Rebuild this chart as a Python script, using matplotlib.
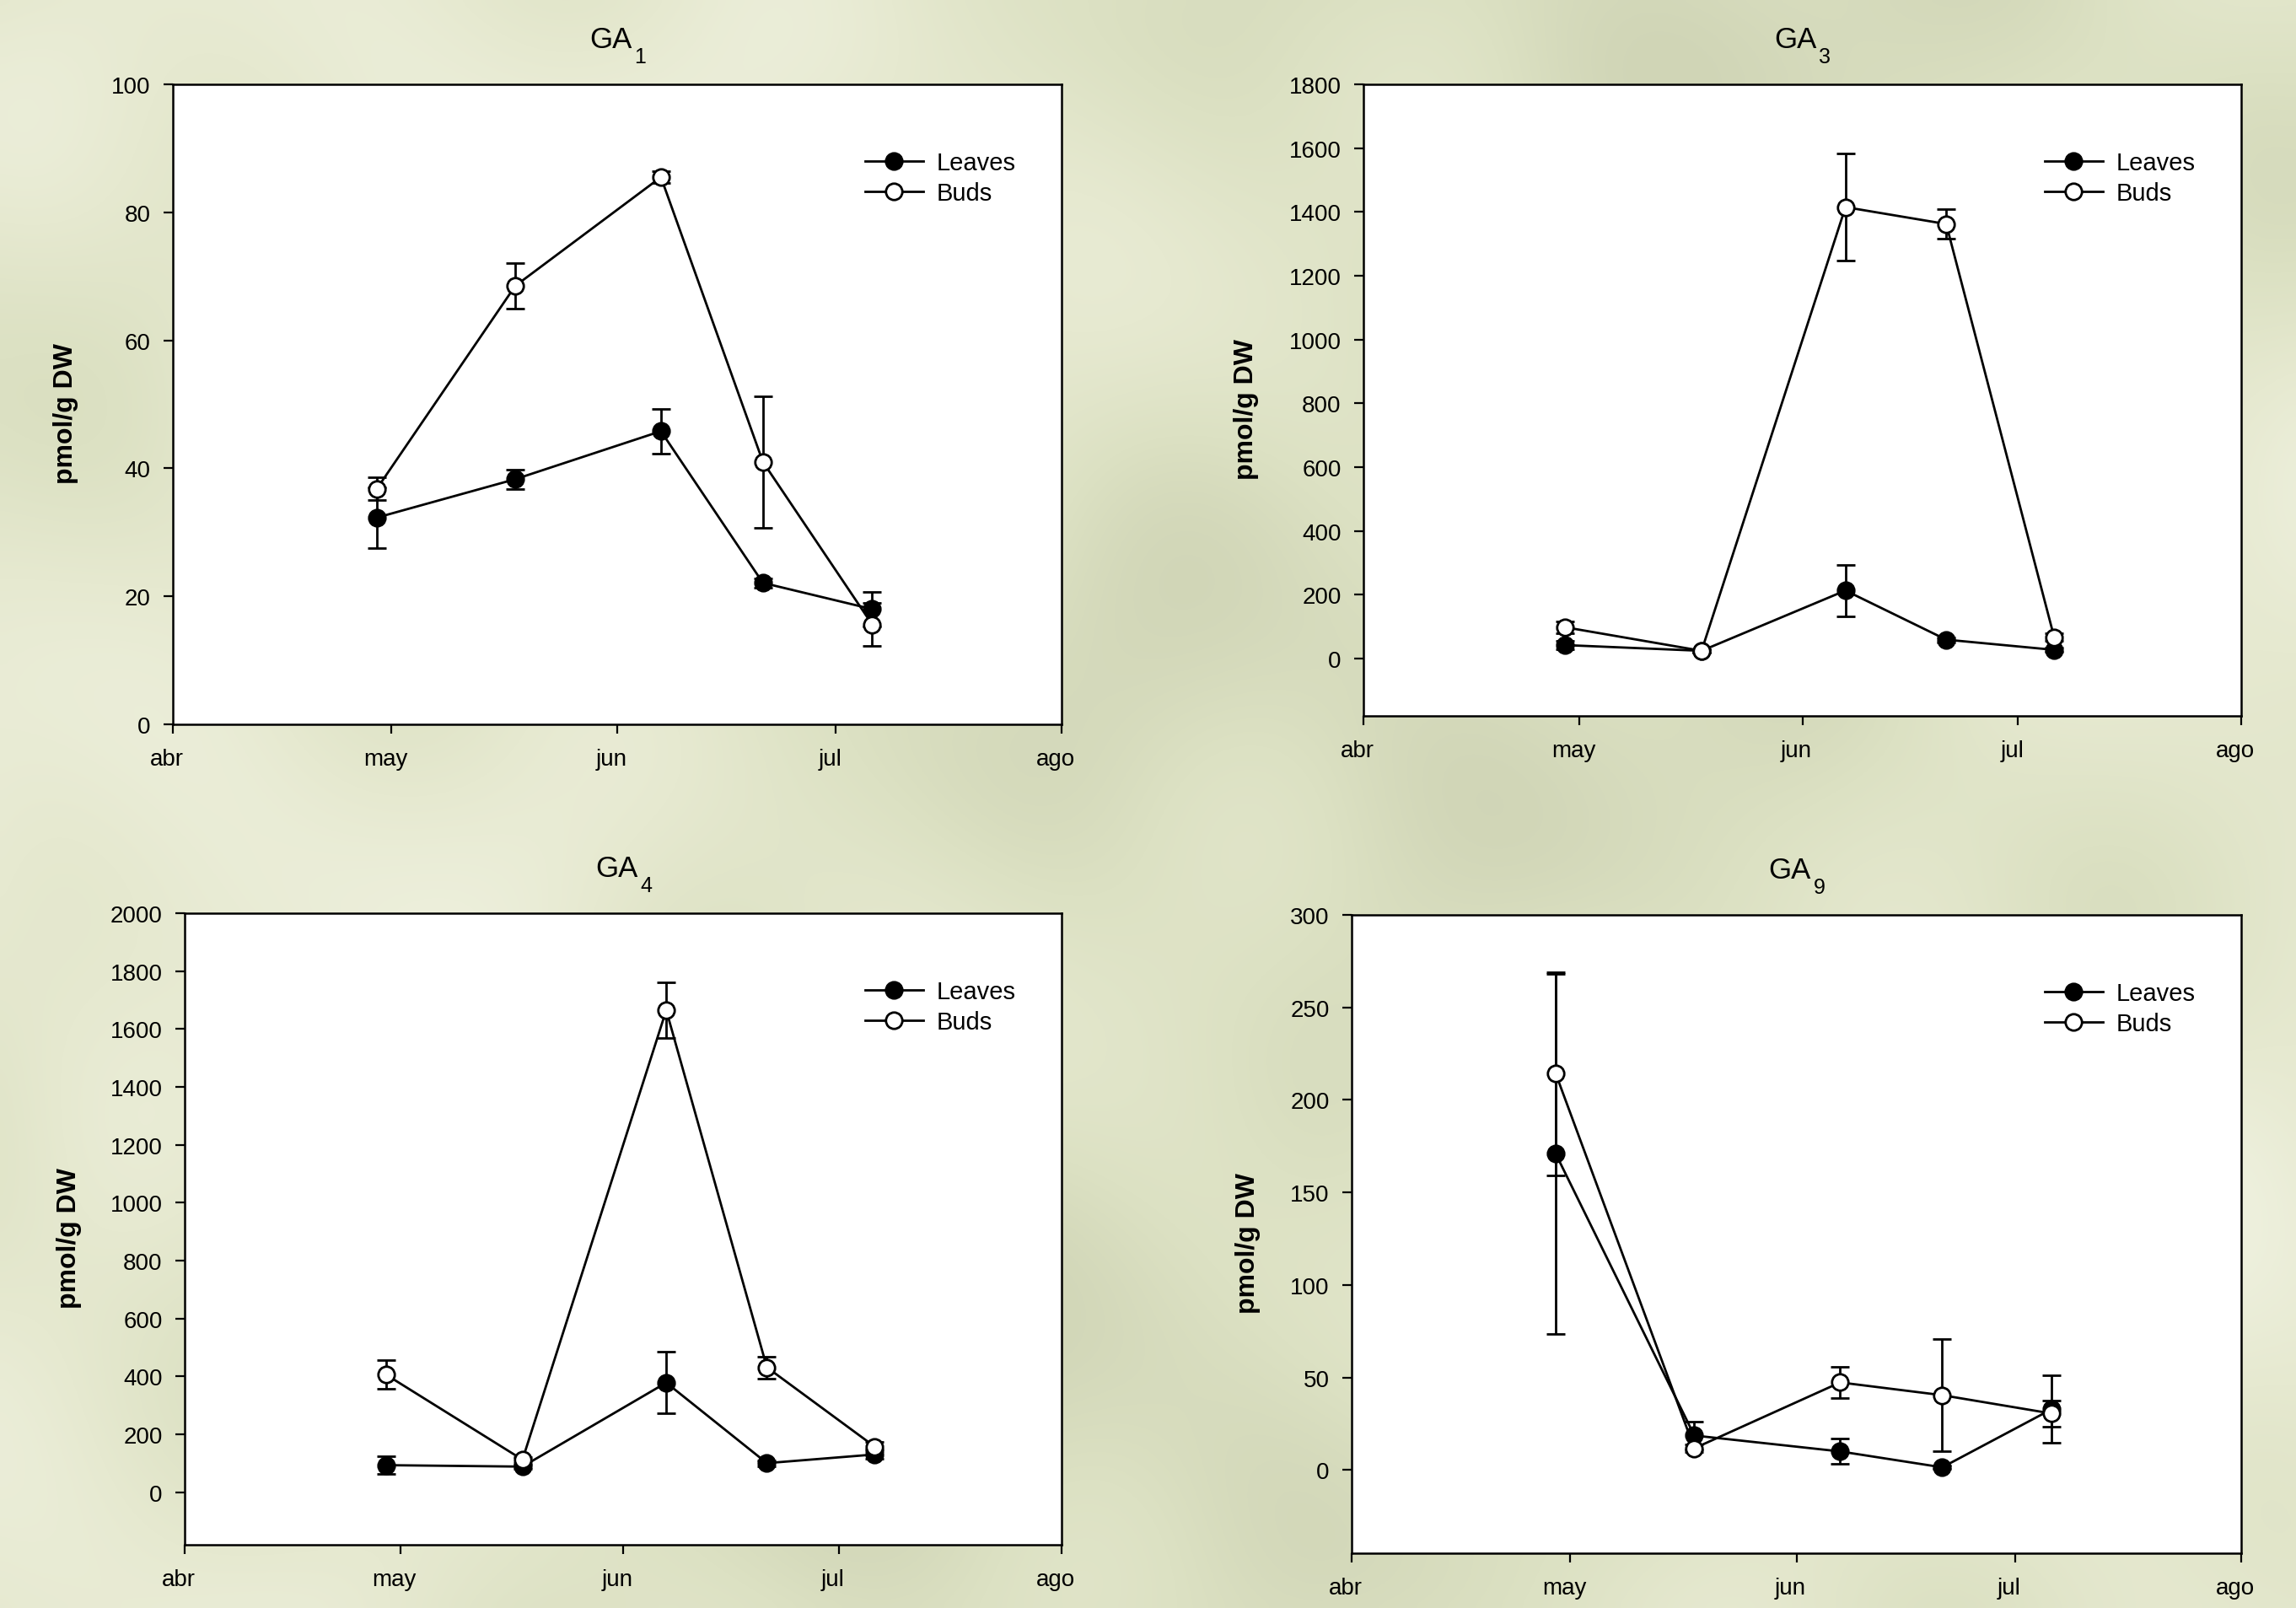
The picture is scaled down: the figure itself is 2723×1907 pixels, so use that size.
import datetime as dt

import numpy as np
import matplotlib
matplotlib.use('Agg')
import matplotlib.pyplot as plt
from matplotlib.colors import LinearSegmentedColormap
from matplotlib.transforms import ScaledTranslation

plt.rcParams['font.family'] = ['Liberation Sans', 'DejaVu Sans']

W, H = 2723, 1908

# sampling dates and month ticks
sample_dates = [dt.date(2009, 4, 29), dt.date(2009, 5, 18), dt.date(2009, 6, 7),
                dt.date(2009, 6, 21), dt.date(2009, 7, 6)]
month_ticks = [dt.date(2009, 4, 1), dt.date(2009, 5, 1), dt.date(2009, 6, 1),
               dt.date(2009, 7, 1), dt.date(2009, 8, 1)]
month_labels = ['abr', 'may', 'jun', 'jul', 'ago']

# GA1
ga1_leaves = [32.3, 38.3, 45.8, 22.1, 18.0]
ga1_leaves_err = [4.7, 1.5, 3.5, 0.7, 2.7]
ga1_buds = [36.8, 68.5, 85.5, 41.0, 15.6]
ga1_buds_err = [1.8, 3.6, 0.9, 10.3, 3.4]

# GA3
ga3_leaves = [42, 24, 213, 59, 27]
ga3_leaves_err = [12, 5, 81, 8, 6]
ga3_buds = [98, 24, 1415, 1362, 67]
ga3_buds_err = [19, 5, 168, 46, 12]

# GA4
ga4_leaves = [93, 88, 378, 100, 130]
ga4_leaves_err = [31, 8, 106, 10, 16]
ga4_buds = [406, 112, 1665, 431, 157]
ga4_buds_err = [50, 10, 96, 38, 15]

# GA9
ga9_leaves = [170.8, 18.6, 10.0, 1.4, 32.8]
ga9_leaves_err = [97.5, 7.5, 6.8, 1.0, 18.2]
ga9_buds = [214.1, 11.7, 47.3, 40.4, 30.5]
ga9_buds_err = [55.0, 2.0, 8.6, 30.2, 7.0]

# (title, subscript, leaves, leaves err, buds, buds err, ylim, yticks,
#  axes box px (l, t, r, b), ylabel x px)
panels = [
    ('GA', '1', ga1_leaves, ga1_leaves_err, ga1_buds, ga1_buds_err,
     (0, 100), np.arange(0, 101, 20), (205, 101, 1259, 860), 78),
    ('GA', '3', ga3_leaves, ga3_leaves_err, ga3_buds, ga3_buds_err,
     (-180, 1800), np.arange(0, 1801, 200), (1617, 101, 2658, 850), 1478),
    ('GA', '4', ga4_leaves, ga4_leaves_err, ga4_buds, ga4_buds_err,
     (-182, 2000), np.arange(0, 2001, 200), (219, 1084, 1259, 1833), 82),
    ('GA', '9', ga9_leaves, ga9_leaves_err, ga9_buds, ga9_buds_err,
     (-45, 300), np.arange(0, 301, 50), (1603, 1086, 2658, 1843), 1480),
]

fig = plt.figure(figsize=(W / 100, H / 100), dpi=100)

# blurry pale-green backdrop
yy, xx = np.mgrid[0:1:200j, 0:1:285j]
z = (np.sin(6.3 * xx + 2.1 * yy) + 0.7 * np.sin(13 * yy - 4 * xx + 1.3)
     + 0.5 * np.sin(21 * xx + 17 * yy + 0.4) + 0.35 * np.cos(29 * xx - 23 * yy + 2)
     + 0.25 * np.sin(41 * xx + 7 * yy + 0.7))
bg_cmap = LinearSegmentedColormap.from_list(
    'hop', ['#d0d5b6', '#dce1c3', '#e6e9d0', '#eff1df'])
bg = fig.add_axes([0, 0, 1, 1], zorder=-10)
bg.imshow(z, cmap=bg_cmap, aspect='auto', interpolation='bicubic')
bg.axis('off')

shift_left = ScaledTranslation(-7 / 100, 0, fig.dpi_scale_trans)

for title, sub, leaves, leaves_err, buds, buds_err, ylim, yticks, box, ylab_x in panels:
    l, t, r, b = box
    w_px, h_px = r - l, b - t
    ax = fig.add_axes([l / W, 1 - b / H, w_px / W, h_px / H])
    ax.set_facecolor('white')

    ax.errorbar(sample_dates, leaves, yerr=leaves_err, fmt='none', ecolor='black',
                elinewidth=2, capsize=8, capthick=2)
    ax.plot(sample_dates, leaves, '-o', color='black', lw=2, ms=14,
            mfc='black', mec='black', mew=2, label='Leaves')
    ax.errorbar(sample_dates, buds, yerr=buds_err, fmt='none', ecolor='black',
                elinewidth=2, capsize=8, capthick=2)
    ax.plot(sample_dates, buds, '-o', color='black', lw=2, ms=14,
            mfc='white', mec='black', mew=2, label='Buds')

    ax.set_xlim(month_ticks[0], month_ticks[-1])
    ax.set_xticks(month_ticks)
    ax.set_xticklabels(month_labels)
    ax.set_ylim(*ylim)
    ax.set_yticks(yticks)

    for sp in ax.spines.values():
        sp.set_linewidth(1.8)
    ax.tick_params(axis='both', direction='out', length=8, width=1.6,
                   labelsize=20, top=False, right=False)
    ax.tick_params(axis='y', pad=11)
    ax.tick_params(axis='x', pad=12)
    for lab in ax.get_xticklabels():
        lab.set_transform(lab.get_transform() + shift_left)

    # title with a lowered subscript
    ga = ax.text(0.5 - 8 / w_px, 1 + 44 / h_px, title, transform=ax.transAxes,
                 ha='center', va='baseline', fontsize=25)
    ax.annotate(sub, xy=(1, 0), xycoords=ga, xytext=(2, -8),
                textcoords='offset points', ha='left', va='baseline', fontsize=18)

    fig.text(ylab_x / W, 1 - ((t + b) / 2 + 10) / H, 'pmol/g DW', rotation=90,
             ha='center', va='center', fontsize=23, fontweight='bold')

    ax.legend(loc='upper left', bbox_to_anchor=(1 - 233 / w_px, 1 - 79 / h_px),
              frameon=False, fontsize=21, borderpad=0, borderaxespad=0,
              handlelength=2.36, handletextpad=0.55, labelspacing=0.29)

fig.savefig('out.png', dpi=100)
